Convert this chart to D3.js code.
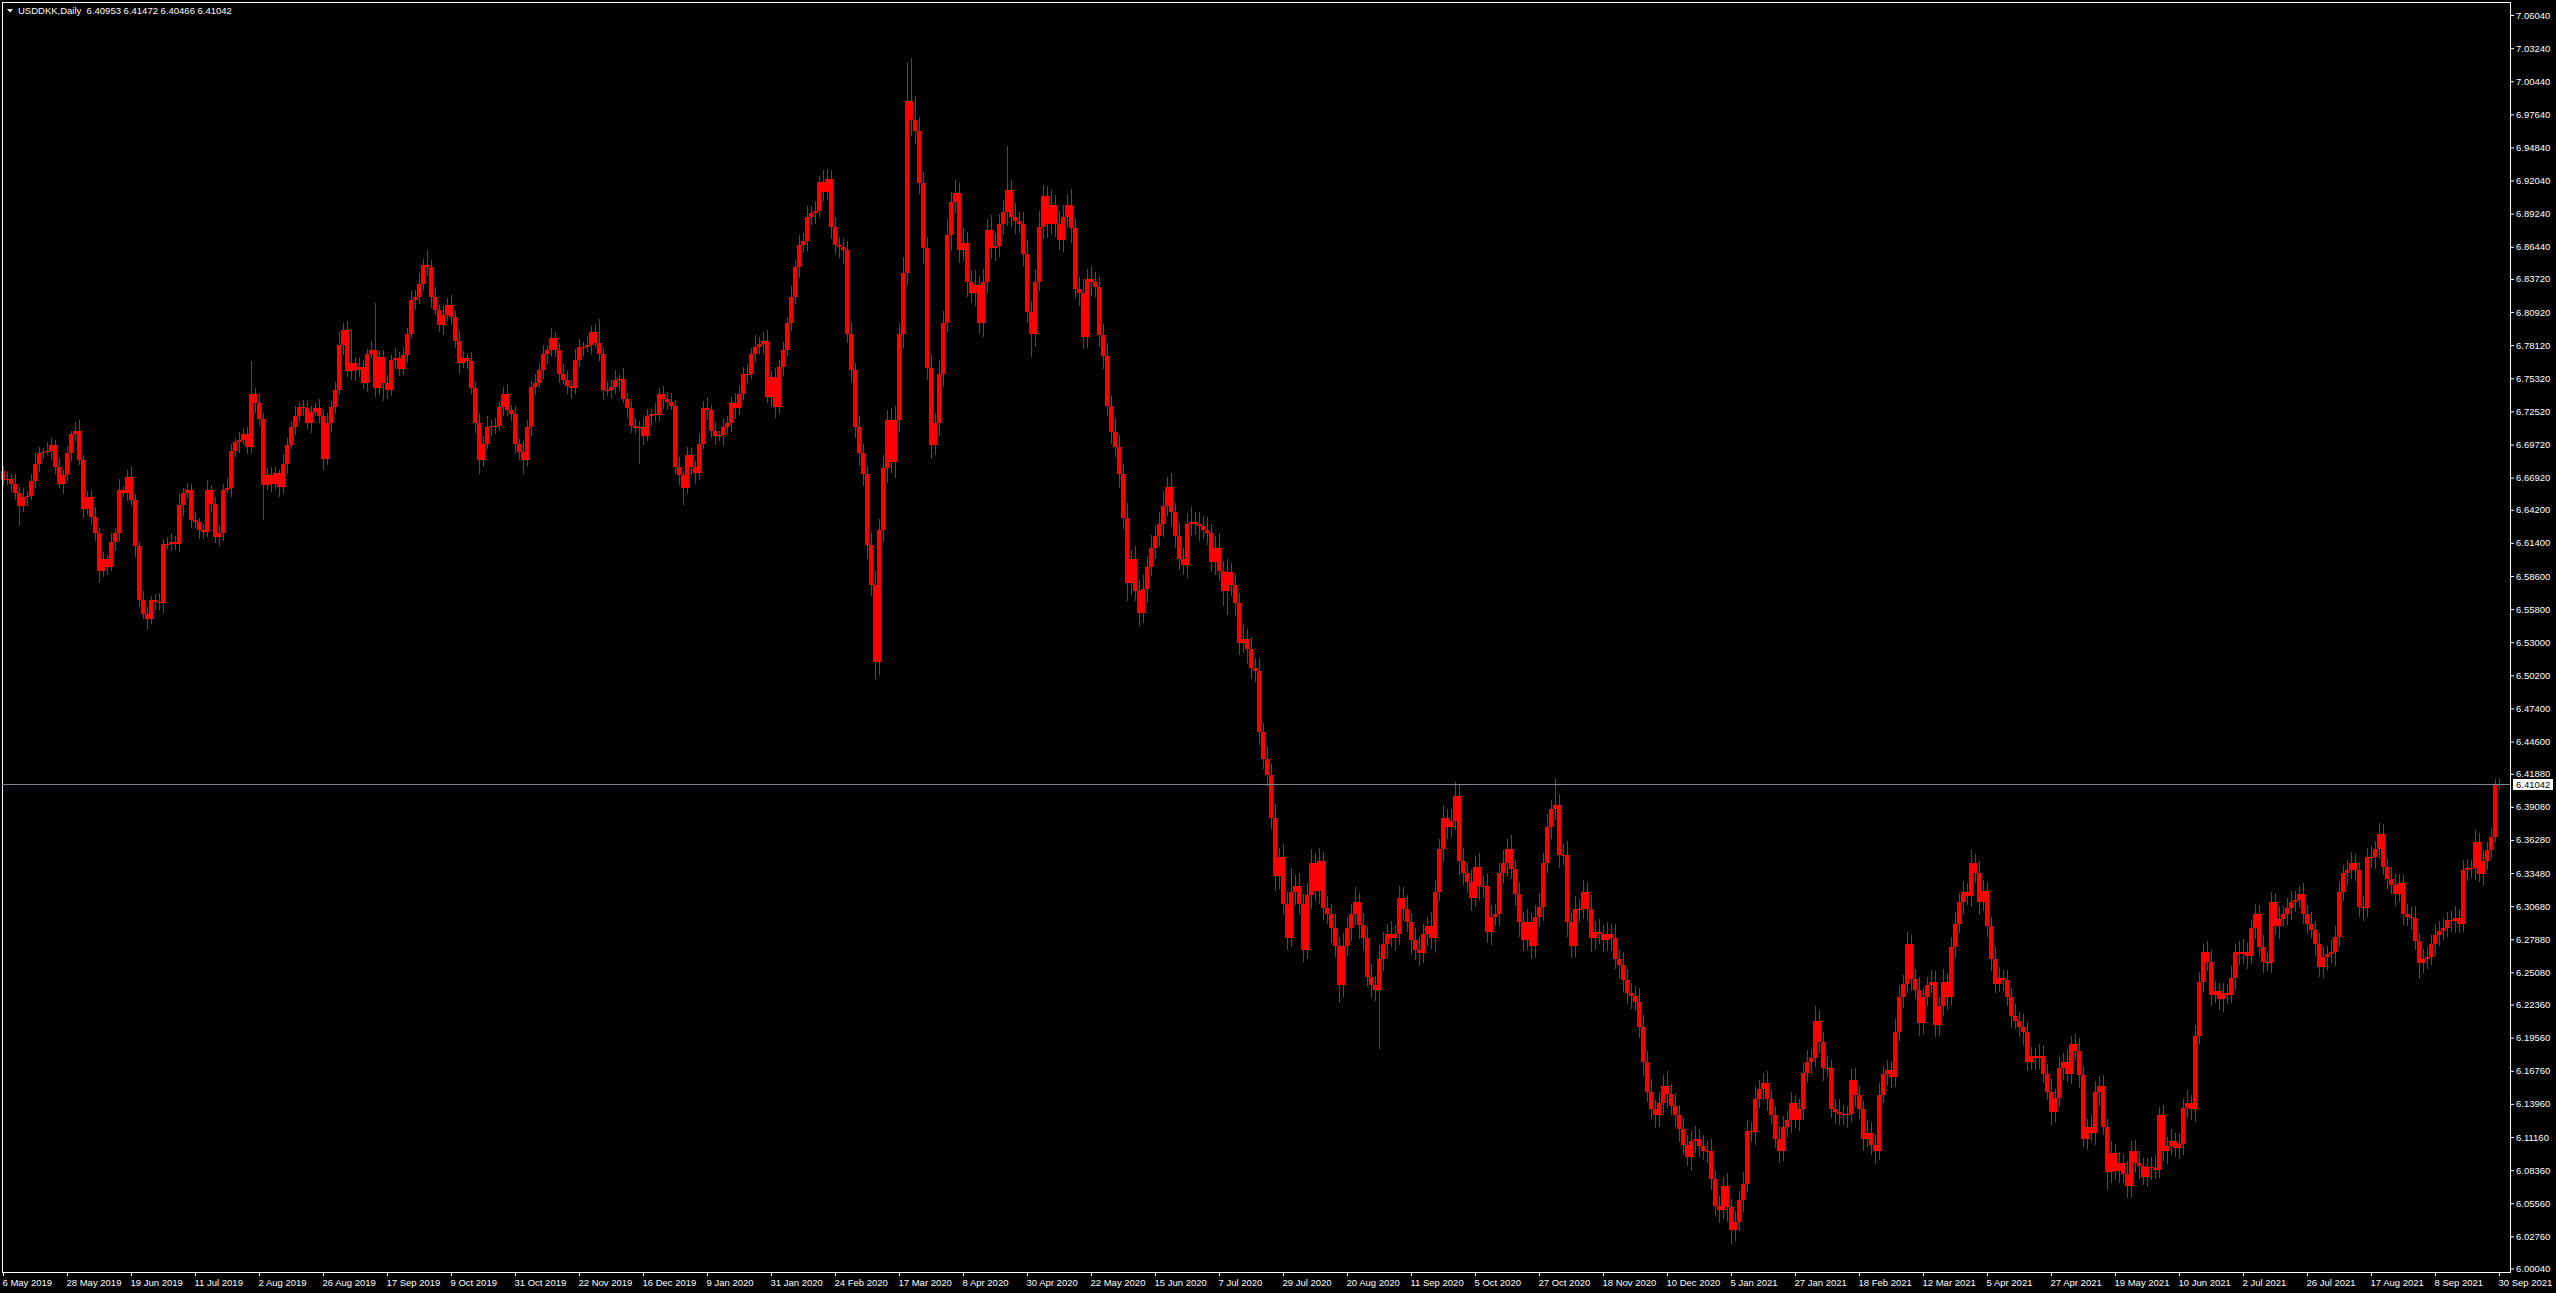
<!DOCTYPE html>
<html>
<head>
<meta charset="utf-8">
<title>USDDKK,Daily</title>
<script src="https://d3js.org/d3.v7.min.js"></script>
<style>
  body { margin: 0; background: #000; overflow: hidden; }
  svg { display: block; }
</style>
</head>
<body>
<div id="chart"></div>
<script>
// header of the chart window
const symbol = "USDDKK,Daily";
const lastQuote = ["6.40953", "6.41472", "6.40466", "6.41042"];
const currentPrice = 6.41042;

// daily closes, 6 May 2019 .. 30 Sep 2021 (one row = 25 bars)
const firstOpen = 6.675;
const closes = [
  6.667,6.668,6.664,6.656,6.645,6.653,6.654,6.666,6.681,6.690,6.691,6.692,6.697,6.678,6.664,6.671,6.690,6.706,6.709,6.684,6.643,6.653,6.636,6.622,6.590,
  6.600,6.594,6.615,6.622,6.659,6.656,6.670,6.650,6.611,6.566,6.554,6.550,6.566,6.564,6.563,6.613,6.613,6.615,6.613,6.646,6.656,6.659,6.633,6.632,6.625,
  6.623,6.659,6.647,6.619,6.622,6.659,6.660,6.692,6.699,6.701,6.706,6.695,6.740,6.732,6.719,6.663,6.671,6.664,6.673,6.661,6.681,6.697,6.712,6.721,6.729,
  6.728,6.715,6.725,6.728,6.721,6.685,6.715,6.729,6.743,6.781,6.794,6.759,6.766,6.760,6.763,6.749,6.774,6.777,6.745,6.771,6.749,6.743,6.769,6.770,6.761,
  6.773,6.791,6.819,6.822,6.833,6.849,6.847,6.822,6.811,6.798,6.807,6.815,6.805,6.785,6.766,6.770,6.768,6.745,6.715,6.684,6.698,6.712,6.713,6.713,6.729,
  6.740,6.726,6.723,6.698,6.691,6.684,6.712,6.746,6.749,6.760,6.774,6.777,6.787,6.777,6.757,6.752,6.747,6.745,6.769,6.780,6.780,6.781,6.792,6.783,6.774,
  6.743,6.743,6.746,6.752,6.753,6.736,6.728,6.713,6.711,6.712,6.704,6.721,6.723,6.722,6.740,6.736,6.733,6.730,6.678,6.671,6.660,6.688,6.678,6.673,6.698,
  6.728,6.726,6.709,6.704,6.705,6.712,6.715,6.732,6.728,6.740,6.757,6.757,6.774,6.780,6.782,6.785,6.737,6.754,6.729,6.763,6.777,6.800,6.822,6.847,6.866,
  6.869,6.890,6.893,6.895,6.919,6.911,6.922,6.881,6.866,6.864,6.862,6.791,6.760,6.712,6.690,6.672,6.612,6.578,6.513,6.625,6.677,6.718,6.682,6.718,6.791,
  6.842,6.988,6.972,6.962,6.918,6.863,6.762,6.697,6.715,6.757,6.800,6.874,6.902,6.910,6.862,6.868,6.835,6.825,6.832,6.800,6.835,6.879,6.863,6.865,6.884,
  6.894,6.912,6.890,6.886,6.884,6.858,6.809,6.791,6.835,6.881,6.907,6.884,6.900,6.884,6.870,6.890,6.900,6.880,6.829,6.825,6.788,6.837,6.835,6.830,6.790,
  6.772,6.730,6.708,6.695,6.672,6.635,6.580,6.600,6.573,6.555,6.575,6.594,6.610,6.620,6.630,6.645,6.661,6.640,6.620,6.600,6.595,6.630,6.632,6.630,6.628,
  6.625,6.622,6.598,6.610,6.590,6.573,6.589,6.578,6.563,6.529,6.533,6.524,6.508,6.506,6.454,6.431,6.418,6.381,6.332,6.348,6.309,6.280,6.319,6.324,6.309,
  6.270,6.316,6.343,6.320,6.345,6.305,6.300,6.288,6.273,6.240,6.273,6.288,6.300,6.310,6.291,6.280,6.247,6.240,6.236,6.262,6.275,6.283,6.280,6.283,6.314,
  6.304,6.293,6.278,6.270,6.267,6.283,6.290,6.280,6.319,6.355,6.381,6.374,6.379,6.400,6.345,6.335,6.327,6.314,6.340,6.324,6.324,6.285,6.298,6.300,6.335,
  6.343,6.355,6.338,6.317,6.293,6.278,6.293,6.273,6.298,6.306,6.343,6.374,6.389,6.392,6.350,6.350,6.293,6.273,6.304,6.304,6.319,6.304,6.280,6.285,6.283,
  6.278,6.283,6.280,6.262,6.257,6.244,6.233,6.231,6.226,6.205,6.175,6.150,6.135,6.130,6.140,6.155,6.148,6.138,6.130,6.118,6.105,6.095,6.108,6.110,6.104,
  6.100,6.100,6.076,6.053,6.050,6.070,6.052,6.033,6.040,6.058,6.072,6.117,6.116,6.144,6.152,6.157,6.144,6.130,6.110,6.100,6.120,6.126,6.140,6.126,6.135,
  6.166,6.175,6.178,6.210,6.192,6.170,6.170,6.135,6.133,6.131,6.130,6.131,6.160,6.147,6.135,6.110,6.115,6.105,6.100,6.147,6.165,6.168,6.162,6.200,6.230,
  6.241,6.275,6.245,6.236,6.208,6.230,6.240,6.243,6.206,6.222,6.243,6.230,6.272,6.292,6.310,6.319,6.315,6.343,6.335,6.310,6.320,6.290,6.262,6.241,6.246,
  6.244,6.230,6.214,6.210,6.205,6.200,6.175,6.180,6.178,6.180,6.165,6.150,6.133,6.145,6.170,6.175,6.165,6.190,6.184,6.164,6.110,6.120,6.115,6.150,6.155,
  6.120,6.082,6.098,6.083,6.090,6.080,6.070,6.100,6.090,6.087,6.078,6.086,6.085,6.084,6.130,6.100,6.104,6.108,6.102,6.106,6.136,6.140,6.135,6.197,6.243,
  6.268,6.260,6.232,6.235,6.228,6.233,6.232,6.246,6.268,6.266,6.268,6.265,6.288,6.300,6.272,6.260,6.259,6.310,6.290,6.296,6.300,6.305,6.310,6.312,6.317,
  6.300,6.292,6.287,6.275,6.255,6.264,6.266,6.268,6.281,6.319,6.335,6.337,6.343,6.337,6.306,6.305,6.348,6.348,6.355,6.368,6.340,6.330,6.325,6.317,6.326,
  6.300,6.298,6.297,6.277,6.259,6.262,6.264,6.275,6.282,6.286,6.288,6.295,6.294,6.297,6.292,6.337,6.339,6.339,6.361,6.334,6.345,6.354,6.365,6.40953,6.41042
];

// shadow lengths above / below the body, in thousandths
const wickUp = [
  4,6,3,8,5,7,4,6,9,5,3,7,6,4,8,5,6,3,7,9,4,5,6,8,5,
  6,4,7,5,9,3,6,8,5,4,7,6,3,5,8,4,6,7,5,9,4,6,5,7,3,
  5,8,4,6,7,5,9,6,4,7,5,6,28,5,8,4,6,7,5,3,8,6,5,9,4,
  6,7,5,4,8,6,9,5,7,12,6,8,28,5,7,6,4,8,40,5,6,7,4,9,5,
  7,5,8,6,9,5,13,6,8,4,7,6,9,5,8,6,4,7,5,8,6,9,5,7,4,
  6,8,5,7,4,9,6,5,8,6,7,4,9,5,6,8,7,5,9,6,4,8,5,7,20,
  5,7,6,8,4,9,5,6,7,5,8,6,4,9,5,7,6,8,5,9,4,7,6,5,8,
  6,9,5,7,4,8,6,5,9,7,6,8,5,10,6,7,9,5,8,6,7,5,9,6,8,
  7,9,6,8,5,10,8,7,9,6,8,7,10,6,9,8,7,10,12,9,11,8,10,12,9,
  14,33,36,20,12,10,9,11,8,12,10,14,9,11,8,12,9,10,13,8,11,9,12,10,8,
  10,38,9,11,8,10,12,9,11,14,10,9,12,8,11,10,9,13,8,10,12,9,11,8,10,
  9,11,8,12,10,9,13,8,11,10,12,9,11,8,10,13,9,12,8,11,10,9,12,8,10,
  9,11,8,10,12,9,11,8,10,9,12,8,10,9,11,8,10,9,12,8,11,10,20,9,11,
  8,10,12,9,11,8,10,9,12,8,11,10,9,13,8,10,9,11,8,12,10,9,11,8,10,
  9,12,8,10,11,9,8,12,10,9,11,8,10,12,9,11,8,10,9,12,8,11,10,9,8,
  11,9,12,8,10,9,11,8,10,12,9,11,8,22,10,9,12,8,11,9,10,8,12,9,11,
  8,10,9,12,8,11,10,9,8,12,10,9,11,8,10,9,12,8,11,9,10,8,9,11,8,
  9,8,10,7,9,8,11,7,9,8,10,9,7,11,8,9,10,7,8,11,9,8,10,7,9,
  8,10,7,12,9,8,10,7,9,11,8,7,9,10,8,7,11,9,8,10,7,9,8,11,9,
  8,10,7,9,11,8,7,10,9,8,11,7,9,10,8,9,7,11,8,10,9,7,8,10,9,
  7,9,8,10,7,11,9,8,7,10,9,8,11,7,9,8,10,7,9,11,8,7,10,9,8,
  9,7,10,8,9,7,11,8,9,10,7,8,9,11,7,9,8,10,7,9,8,11,7,9,8,
  7,9,10,8,7,9,8,10,7,9,11,8,7,9,8,10,7,9,8,11,7,9,10,8,7,
  9,8,10,7,9,8,7,10,9,8,7,9,10,8,7,9,8,10,7,9,8,7,10,9,8,
  7,9,8,10,7,9,8,7,10,8,9,7,8,10,7,9,8,7,10,8,9,7,8,5,4.3
];
const wickDn = [
  5,4,7,6,16,5,8,4,6,7,5,3,8,6,4,9,5,7,6,4,8,5,7,6,10,
  5,7,4,8,6,3,7,5,9,6,4,9,5,7,6,8,4,6,5,7,9,4,6,5,8,
  6,4,7,5,8,6,3,7,5,9,4,6,5,8,6,30,4,7,5,8,6,9,4,7,5,
  7,5,8,4,6,9,5,7,6,4,8,5,7,9,6,5,7,4,8,6,15,7,5,8,6,
  5,7,4,8,6,5,7,9,4,6,8,5,7,6,9,4,7,5,8,12,6,5,8,7,4,
  8,5,6,9,7,12,5,8,6,4,7,9,5,6,8,4,7,9,5,6,8,5,7,4,6,
  8,5,7,6,9,4,8,6,5,30,7,4,8,6,5,9,7,4,6,8,14,5,7,9,6,
  5,8,6,7,4,9,5,7,8,6,5,9,4,7,6,8,5,7,9,6,8,5,7,6,9,
  6,8,7,9,6,8,7,10,8,9,12,8,10,9,11,10,12,9,15,11,10,12,9,13,10,
  12,10,14,11,9,13,10,12,9,11,10,8,12,9,11,10,13,8,11,9,12,10,8,11,9,
  10,12,9,11,8,10,9,20,11,8,10,12,9,11,8,10,9,12,8,11,10,9,12,8,10,
  11,9,10,8,12,9,15,10,8,11,9,12,8,10,9,11,8,12,10,9,8,11,10,9,12,
  8,10,9,11,8,12,20,9,11,10,8,12,9,10,11,8,10,9,12,11,9,10,8,11,9,
  10,8,12,9,11,10,8,12,9,15,10,8,11,9,12,10,8,11,9,50,10,12,8,11,9,
  10,8,12,9,11,8,10,9,12,8,11,10,9,8,12,10,9,11,8,12,10,9,11,8,10,
  9,11,8,10,12,9,8,11,10,9,12,8,10,9,11,8,12,10,9,11,8,10,12,9,8,
  10,9,11,8,12,10,9,11,8,10,12,9,8,11,10,9,12,8,10,11,9,8,12,10,9,
  8,10,9,7,11,8,12,12,9,8,10,7,9,11,8,9,10,7,8,10,9,8,11,7,9,
  9,8,10,7,9,11,8,7,10,9,8,11,7,9,8,10,7,9,11,8,7,10,9,8,7,
  9,8,10,7,11,9,8,7,10,9,8,11,7,9,8,10,7,9,8,11,7,9,10,8,7,
  9,8,10,7,9,11,8,7,10,9,8,7,11,9,8,10,7,9,8,11,7,9,8,10,12,
  7,15,9,8,10,7,10,9,8,11,7,9,10,8,7,9,11,8,7,9,10,8,9,11,7,
  9,8,10,7,9,11,8,7,10,9,8,11,7,9,8,10,7,9,8,11,7,9,10,8,7,
  8,9,7,10,8,9,11,7,12,9,8,10,7,9,8,11,7,9,10,8,7,9,8,10,7,
  9,8,10,7,14,9,8,7,10,9,8,7,9,10,8,7,9,8,10,7,9,8,7,4,4.87
];

// time axis: one label every 16 bars
const labelStep = 16;
const dateLabels = [
  "6 May 2019","28 May 2019","19 Jun 2019","11 Jul 2019","2 Aug 2019","26 Aug 2019","17 Sep 2019",
  "9 Oct 2019","31 Oct 2019","22 Nov 2019","16 Dec 2019","9 Jan 2020","31 Jan 2020","24 Feb 2020",
  "17 Mar 2020","8 Apr 2020","30 Apr 2020","22 May 2020","15 Jun 2020","7 Jul 2020","29 Jul 2020",
  "20 Aug 2020","11 Sep 2020","5 Oct 2020","27 Oct 2020","18 Nov 2020","10 Dec 2020","5 Jan 2021",
  "27 Jan 2021","18 Feb 2021","12 Mar 2021","5 Apr 2021","27 Apr 2021","19 May 2021","10 Jun 2021",
  "2 Jul 2021","26 Jul 2021","17 Aug 2021","8 Sep 2021","30 Sep 2021"
];

// price axis labels
const priceLabels = [
  "7.06040","7.03240","7.00440","6.97640","6.94840","6.92040","6.89240","6.86440","6.83720","6.80920",
  "6.78120","6.75320","6.72520","6.69720","6.66920","6.64200","6.61400","6.58600","6.55800","6.53000",
  "6.50200","6.47400","6.44600","6.41880","6.39080","6.36280","6.33480","6.30680","6.27880","6.25080",
  "6.22360","6.19560","6.16760","6.13960","6.11160","6.08360","6.05560","6.02760","6.00040"
];

const W = 2556, H = 1293;
const frame = { left: 2, right: 2510, top: 2, bottom: 1272 };
const font = '"Liberation Sans", Arial, sans-serif';
const red = "#ff0000";

const bars = closes.map((c, i) => {
  const o = i === 0 ? firstOpen : closes[i - 1];
  return {
    i: i, o: o, c: c,
    h: Math.max(o, c) + wickUp[i] / 1000,
    l: Math.min(o, c) - wickDn[i] / 1000
  };
});

const x = d3.scaleLinear().domain([0, closes.length - 1]).range([3, 3 + 4 * (closes.length - 1)]);
const y = d3.scaleLinear().domain([6.00040, 7.06040]).range([1268.5, 15]);

const svg = d3.select("#chart").append("svg")
  .attr("width", W)
  .attr("height", H)
  .style("background", "#000");

// candles
const candles = svg.append("g").attr("shape-rendering", "crispEdges");
candles.selectAll("line")
  .data(bars)
  .join("line")
  .attr("x1", d => x(d.i) + 0.5)
  .attr("x2", d => x(d.i) + 0.5)
  .attr("y1", d => y(d.h))
  .attr("y2", d => y(d.l))
  .attr("stroke", red)
  .attr("stroke-width", 1);
candles.selectAll("rect")
  .data(bars)
  .join("rect")
  .attr("x", d => x(d.i) - 2)
  .attr("width", 4)
  .attr("y", d => y(Math.max(d.o, d.c)))
  .attr("height", d => Math.max(1, Math.abs(y(d.o) - y(d.c))))
  .attr("fill", red);

// chart frame
svg.append("rect")
  .attr("x", frame.left + 0.5)
  .attr("y", frame.top + 0.5)
  .attr("width", frame.right - frame.left)
  .attr("height", frame.bottom - frame.top)
  .attr("fill", "none")
  .attr("stroke", "#ffffff")
  .attr("shape-rendering", "crispEdges");

// current price line
const py = Math.round(y(currentPrice)) + 0.5;
svg.append("line")
  .attr("x1", frame.left)
  .attr("x2", frame.right)
  .attr("y1", py)
  .attr("y2", py)
  .attr("stroke", "#778899")
  .attr("shape-rendering", "crispEdges");

// price axis
const yAxis = d3.axisRight(y)
  .tickValues(priceLabels.map(Number))
  .tickFormat((d, k) => priceLabels[k])
  .tickSizeInner(4)
  .tickSizeOuter(0)
  .tickPadding(2);
const gy = svg.append("g")
  .attr("transform", `translate(${frame.right},0)`)
  .call(yAxis);
gy.select(".domain").remove();
gy.selectAll("line").attr("stroke", "#fff");
gy.selectAll("text")
  .attr("fill", "#fff")
  .attr("font-family", font)
  .attr("font-size", "9.5px");

// current price box
svg.append("rect")
  .attr("x", frame.right + 3)
  .attr("y", py - 5.5)
  .attr("width", 40)
  .attr("height", 11)
  .attr("fill", "#fff");
svg.append("text")
  .attr("x", frame.right + 6)
  .attr("y", py + 3.5)
  .attr("fill", "#000")
  .attr("font-family", font)
  .attr("font-size", "9.5px")
  .text(currentPrice.toFixed(5));

// time axis
const xAxis = d3.axisBottom(x)
  .tickValues(dateLabels.map((s, k) => k * labelStep))
  .tickFormat((d, k) => dateLabels[k])
  .tickSizeInner(4)
  .tickSizeOuter(0)
  .tickPadding(3);
const gx = svg.append("g")
  .attr("transform", `translate(0,${frame.bottom})`)
  .call(xAxis);
gx.select(".domain").remove();
gx.selectAll("line").attr("stroke", "#fff");
gx.selectAll("text")
  .attr("fill", "#fff")
  .attr("font-family", font)
  .attr("font-size", "9.5px")
  .attr("text-anchor", "start")
  .attr("x", -1);

// window header
svg.append("path")
  .attr("d", "M7,9 L13,9 L10,12.5 Z")
  .attr("fill", "#fff");
svg.append("text")
  .attr("x", 18)
  .attr("y", 14)
  .attr("fill", "#fff")
  .attr("font-family", font)
  .attr("font-size", "9.5px")
  .style("white-space", "pre")
  .text(symbol + "  " + lastQuote.join(" "));
</script>
</body>
</html>
